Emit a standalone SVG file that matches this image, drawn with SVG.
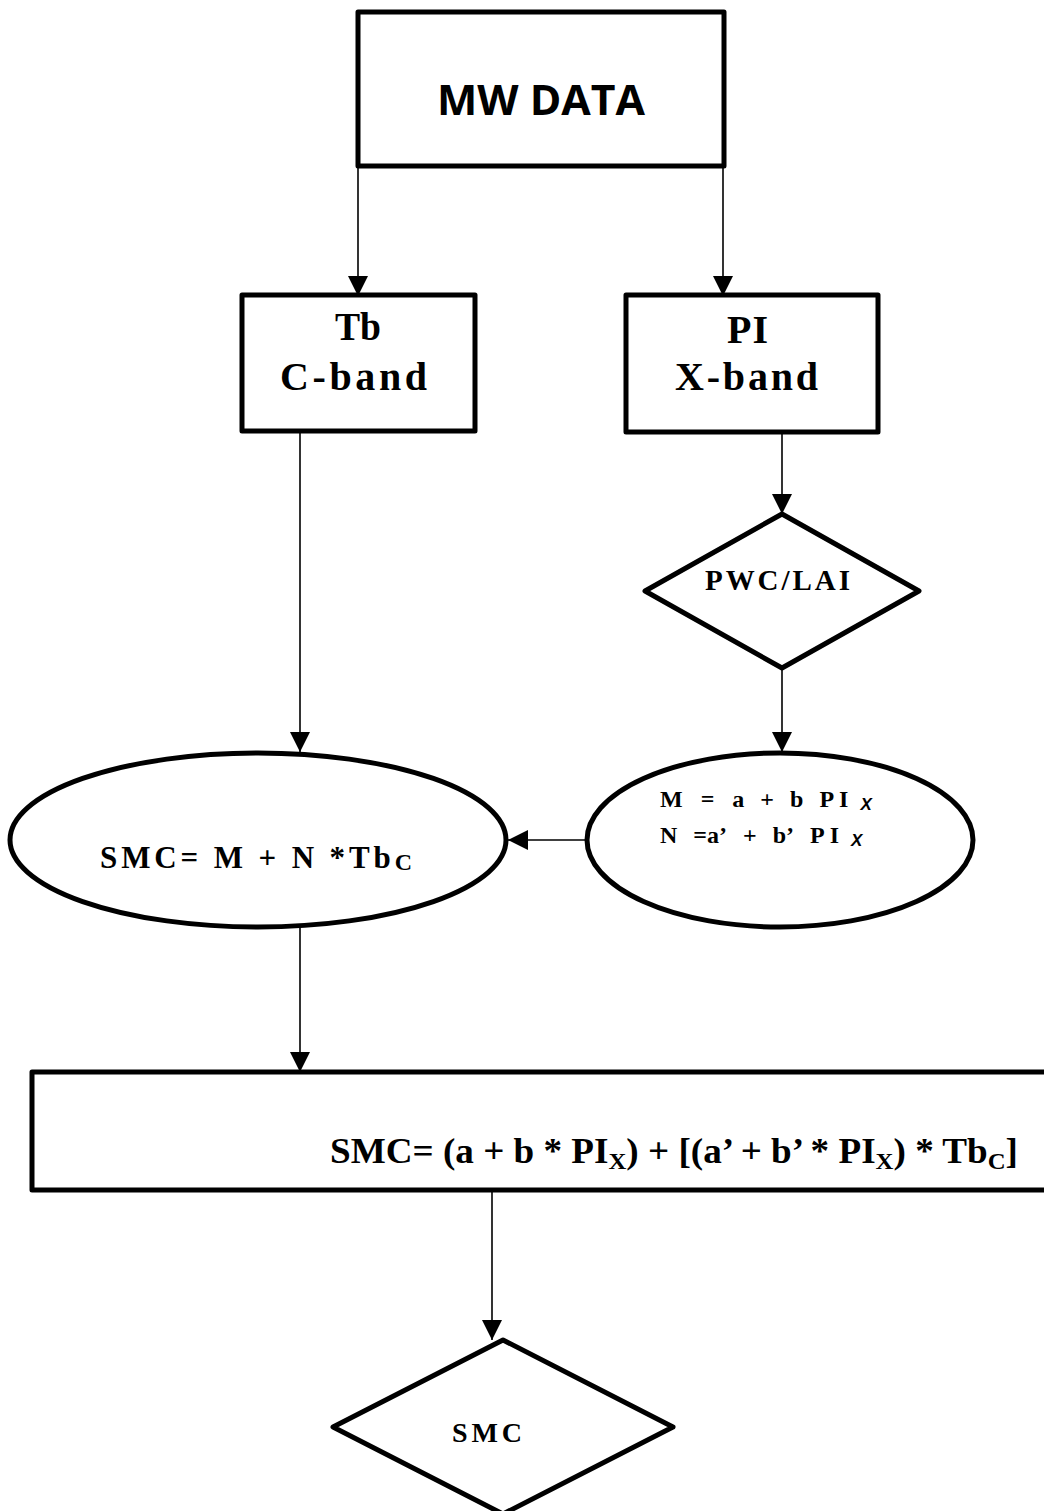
<svg xmlns="http://www.w3.org/2000/svg" width="1044" height="1511" viewBox="0 0 1044 1511">
<defs>
<marker id="arr" markerUnits="userSpaceOnUse" markerWidth="20" markerHeight="20" refX="20" refY="10" orient="auto">
<path d="M0,0 L20,10 L0,20 Z" fill="#000"/>
</marker>
<style>
.node{fill:#fff;stroke:#000;stroke-width:5;stroke-linejoin:round}
.conn{fill:none;stroke:#000;stroke-width:1.6;marker-end:url(#arr)}
.tr{font-family:"Liberation Serif","Times New Roman",serif;font-weight:bold;fill:#000}
.sans{font-family:"Open Sans","DejaVu Sans",sans-serif;font-weight:bold;fill:#000}
</style>
</defs>
<rect width="1044" height="1511" fill="#fff"/>
<g id="connectors">
<line class="conn" x1="358" y1="168" x2="358" y2="296"/>
<line class="conn" x1="723" y1="168" x2="723" y2="296"/>
<line class="conn" x1="300" y1="433" x2="300" y2="752"/>
<line class="conn" x1="782" y1="433" x2="782" y2="514"/>
<line class="conn" x1="782" y1="668" x2="782" y2="752"/>
<line class="conn" x1="587" y1="840" x2="508" y2="840"/>
<line class="conn" x1="300" y1="928" x2="300" y2="1072"/>
<line class="conn" x1="492" y1="1191" x2="492" y2="1340"/>
</g>
<g id="mw-data">
<rect class="node" x="358" y="12" width="366" height="154"/>
<text class="sans" x="541" y="115" font-size="41" text-anchor="middle" textLength="208" lengthAdjust="spacingAndGlyphs">MW DATA</text>
</g>
<g id="tb-cband">
<rect class="node" x="242" y="295" width="233" height="136"/>
<text class="tr" x="358" y="340" font-size="40" text-anchor="middle" textLength="46" lengthAdjust="spacingAndGlyphs">Tb</text>
<text class="tr" x="280" y="390" font-size="40" textLength="147" lengthAdjust="spacing">C-band</text>
</g>
<g id="pi-xband">
<rect class="node" x="626" y="295" width="252" height="137"/>
<text class="tr" x="727" y="343" font-size="40" textLength="41" lengthAdjust="spacing">PI</text>
<text class="tr" x="675" y="390" font-size="40" textLength="143" lengthAdjust="spacing">X-band</text>
</g>
<g id="pwc-lai">
<polygon class="node" points="782,514 919,591 782,668 645,591"/>
<text class="tr" x="705" y="590" font-size="29" textLength="145" lengthAdjust="spacing">PWC/LAI</text>
</g>
<g id="mn-eq">
<ellipse class="node" cx="780" cy="840" rx="193" ry="87"/>
<text class="tr" x="660" y="807" font-size="24">M<tspan dx="18">=</tspan><tspan dx="18">a</tspan><tspan dx="16">+</tspan><tspan dx="16">b</tspan><tspan dx="16">P</tspan><tspan dx="5">I</tspan><tspan dx="12" dy="3" font-size="17" font-style="italic" font-family="Liberation Sans, Arial, sans-serif" font-weight="bold">X</tspan></text>
<text class="tr" x="660" y="843" font-size="24">N<tspan dx="16">=a’</tspan><tspan dx="16">+</tspan><tspan dx="16">b’</tspan><tspan dx="16">P</tspan><tspan dx="5">I</tspan><tspan dx="12" dy="3" font-size="17" font-style="italic" font-family="Liberation Sans, Arial, sans-serif" font-weight="bold">X</tspan></text>
</g>
<g id="smc-eq">
<ellipse class="node" cx="258" cy="840" rx="248" ry="87"/>
<text class="tr" x="100" y="868" font-size="31" textLength="312" lengthAdjust="spacing">SMC= M + N *Tb<tspan font-size="24" dy="2">C</tspan></text>
</g>
<g id="formula">
<rect class="node" x="32" y="1072" width="1030" height="118"/>
<text class="tr" x="330" y="1163" font-size="36" textLength="688" lengthAdjust="spacingAndGlyphs">SMC= (a + b *  PI<tspan font-size="24" dy="6">X</tspan><tspan dy="-6">) + [(a’ + b’ *  PI</tspan><tspan font-size="24" dy="6">X</tspan><tspan dy="-6">) * Tb</tspan><tspan font-size="24" dy="6">C</tspan><tspan dy="-6">]</tspan></text>
</g>
<g id="smc-out">
<polygon class="node" points="503,1340 673,1427 503,1514 333,1427"/>
<text class="tr" x="452" y="1442" font-size="28" textLength="70" lengthAdjust="spacing">SMC</text>
</g>
</svg>
